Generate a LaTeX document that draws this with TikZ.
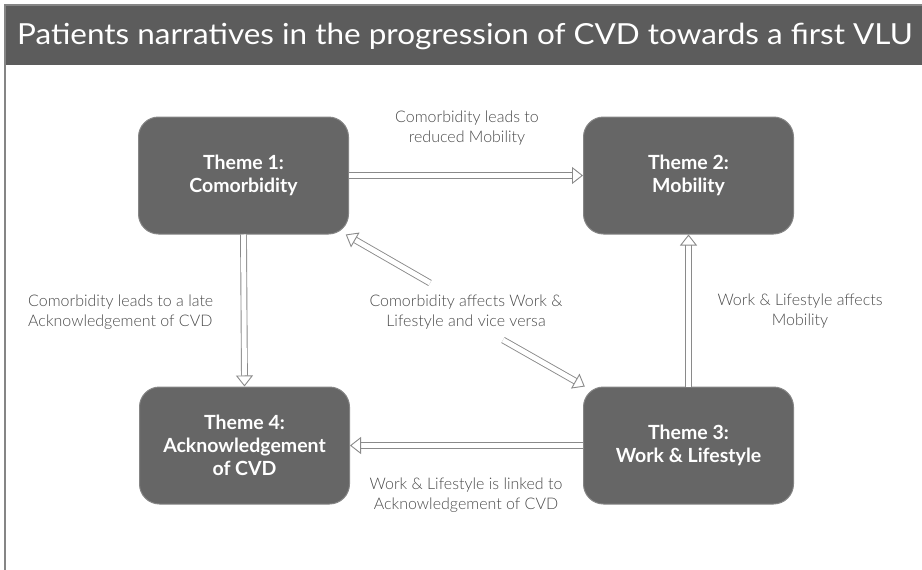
\documentclass[tikz,border=0pt]{standalone}
\usepackage{fontspec}
\setmainfont{Lato}
\IfFontExistsTF{Lato Light}{\newfontfamily\notefont{Lato Light}}{\newfontfamily\notefont{Lato}}
\usetikzlibrary{arrows.meta}
\definecolor{titlegray}{HTML}{5C5C5C}
\definecolor{boxgray}{HTML}{666666}
\definecolor{edgegray}{HTML}{858585}
\definecolor{notegray}{HTML}{4A4A4A}
\definecolor{linkgray}{HTML}{8A8A8A}
\begin{document}
\begin{tikzpicture}[x=1pt,y=-1pt,
	theme/.style={rounded corners=20pt, draw=edgegray, line width=1pt, fill=boxgray, text=white, font=\bfseries\fontsize{19.5}{23}\selectfont, minimum width=210pt, minimum height=117pt, align=center, inner sep=0pt},
	note/.style={text=notegray, font=\notefont\fontsize{16}{20}\selectfont, align=center, inner sep=0pt},
	link/.style={draw=linkgray, line width=0.9pt, double, double distance=5pt, -{Triangle[open, length=11pt, width=17pt]}}]
	\useasboundingbox (0,0) rectangle (922,570);
	% frame and title bar
	\fill[titlegray] (5,5) rectangle (925,65);
	\draw[edgegray, line width=1.5pt] (5,5) rectangle (925,578);
	\node (title) at (17,45) [anchor=base west, text=white, font=\fontsize{29}{32}\selectfont, inner sep=0pt] {\scalebox{1.085}[1]{Patients narratives in the progression of CVD towards a first VLU}};
	% themes
	\node (T1) at (243.5,175.5)	[theme]	{Theme 1:\\Comorbidity};
	\node (T2) at (688.5,175.5)	[theme]	{Theme 2:\\Mobility};
	\node (T3) at (688.5,445.5)	[theme]	{Theme 3:\\Work \& Lifestyle};
	\node (T4) at (244.5,445.5)	[theme]	{Theme 4:\\Acknowledgement\\of CVD};
	% labels
	\node (n12) at (467,128)	[note]	{Comorbidity leads to\\reduced Mobility};
	\node (n14) at (28,312)	[note, anchor=west, align=left]	{Comorbidity leads to a late\\Acknowledgement of CVD};
	\node (nvv) at (466,312)	[note]	{Comorbidity affects Work \&\\Lifestyle and vice versa};
	\node (n32) at (800,311)	[note]	{Work \& Lifestyle affects\\Mobility};
	\node (n34) at (466,495)	[note]	{Work \& Lifestyle is linked to\\Acknowledgement of CVD};
	\coordinate (d1) at (430,283);
	\coordinate (d2) at (503,340);
	% links
	\draw[link] (T1) -- (T2);
	\draw[link] (T1.south) -- (T4.north);
	\draw[link] (T3) -- (T2);
	\draw[link] (T3) -- (T4);
	\draw[link] (d1) -- (T1);
	\draw[link] (d2) -- (T3);
\end{tikzpicture}
\end{document}
